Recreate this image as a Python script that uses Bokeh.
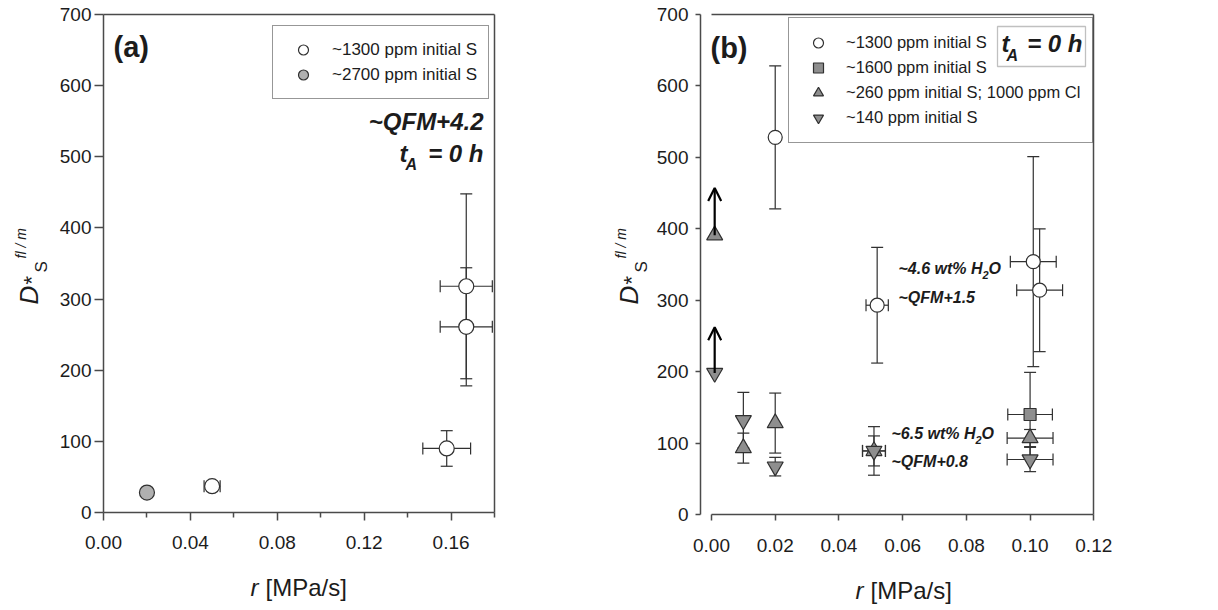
from math import pi

from bokeh.embed import file_html
from bokeh.layouts import row
from bokeh.models import (Arrow, BoxAnnotation, ColumnDataSource, FixedTicker, Label,
                          Legend, LegendItem, LinearAxis, NumeralTickFormatter, OpenHead,
                          Range1d, TeeHead, Whisker)
from bokeh.plotting import figure
from bokeh.resources import INLINE

# ---------------------------------------------------------------- data
# (a) ~QFM+4.2, t_A = 0 h
a_1300_r = [0.050, 0.158, 0.167, 0.167]
a_1300_D = [37, 90, 261, 318]
a_1300_r_err = [0.0037, 0.011, 0.012, 0.012]
a_1300_D_err = [0, 25, 83, 130]

a_2700_r = [0.020]
a_2700_D = [28]

# (b) t_A = 0 h
b_1300_r = [0.020, 0.052, 0.101, 0.103]
b_1300_D = [528, 293, 354, 314]
b_1300_r_err = [0, 0.0035, 0.0072, 0.0072]
b_1300_D_err = [100, 81, 147, 86]

b_1600_r = [0.100]
b_1600_D = [140]
b_1600_r_err = [0.007]
b_1600_D_err = [59]

b_260_r = [0.001, 0.010, 0.020, 0.051, 0.100]
b_260_D = [391, 93, 128, 89, 107]
b_260_r_err = [0, 0, 0, 0.0036, 0.0072]
b_260_D_err = [0, 21, 42, 21, 12]

b_140_r = [0.001, 0.010, 0.020, 0.051, 0.100]
b_140_D = [198, 132, 67, 89, 77]
b_140_r_err = [0, 0, 0, 0.0036, 0.0072]
b_140_D_err = [0, 39, 13, 34, 17]

# lower-limit arrows at r = 0
limit_r = [0.001, 0.001]
limit_D = [391, 198]
limit_tip = [457, 262]

a_x_ticks = [0.00, 0.04, 0.08, 0.12, 0.16]
a_x_minor = [0.02, 0.06, 0.10, 0.14, 0.18]
b_x_ticks = [0.00, 0.02, 0.04, 0.06, 0.08, 0.10, 0.12]
y_ticks = [0, 100, 200, 300, 400, 500, 600, 700]

# ---------------------------------------------------------------- style
FONT = "Liberation Sans"
INK = "#1c1c1c"
AXIS = "#4a4a4a"
EDGE = "#303030"
GREY_A = "#b0b0b0"
GREY_B = "#8e8e8e"
H = 610
TICK_FONT = "19px"


class Panel:
    """Canvas-pixel <-> data mapping for a figure whose frame fills its canvas."""

    def __init__(self, width, px0, px1, vx0, vx1, py0, py1, vy0, vy1):
        self.width = width
        self.kx = (px1 - px0) / (vx1 - vx0)
        self.ky = (py0 - py1) / (vy1 - vy0)
        self.x0 = vx0 - px0 / self.kx
        self.x1 = vx0 + (width - px0) / self.kx
        self.y0 = vy0 - (H - py0) / self.ky
        self.y1 = vy0 + py0 / self.ky

    def __call__(self, cx, cy):
        return self.x0 + cx / self.kx, self.y1 - cy / self.ky


def make_fig(pm):
    p = figure(width=pm.width, height=H, output_backend="svg", toolbar_location=None,
               x_range=Range1d(pm.x0, pm.x1), y_range=Range1d(pm.y0, pm.y1),
               min_border=0, min_border_left=0, min_border_right=0,
               min_border_top=0, min_border_bottom=0)
    p.grid.visible = False
    p.outline_line_color = None
    p.background_fill_color = "white"
    p.border_fill_color = "white"
    return p


def style_axis(ax, ticks, minor, tick_out, minor_out, standoff, loc, bounds):
    ax.fixed_location = loc
    ax.bounds = bounds
    ax.ticker = FixedTicker(ticks=ticks, minor_ticks=minor)
    ax.axis_line_color = AXIS
    ax.axis_line_width = 1.5
    ax.major_tick_line_color = AXIS
    ax.major_tick_line_width = 1.5
    ax.minor_tick_line_color = AXIS
    ax.minor_tick_line_width = 1.5
    ax.major_tick_in = 0
    ax.major_tick_out = tick_out
    ax.minor_tick_in = 0
    ax.minor_tick_out = minor_out
    ax.major_label_text_font = FONT
    ax.major_label_text_font_size = TICK_FONT
    ax.major_label_text_color = INK
    ax.major_label_standoff = standoff


def frame_axis(p, side, loc, bounds):
    ax = LinearAxis(ticker=FixedTicker(ticks=[]), bounds=bounds, fixed_location=loc,
                    axis_line_color=AXIS, axis_line_width=1.5,
                    major_tick_in=0, major_tick_out=0, minor_tick_in=0, minor_tick_out=0,
                    major_label_text_font_size="0px")
    p.add_layout(ax, side)


def add_errors(p, r, d, r_err, d_err):
    head = dict(size=12, line_color=EDGE, line_width=1.2)
    vert = [(x, y, e) for x, y, e in zip(r, d, d_err) if e > 0]
    if vert:
        src = ColumnDataSource(dict(base=[v[0] for v in vert],
                                    lo=[v[1] - v[2] for v in vert],
                                    hi=[v[1] + v[2] for v in vert]))
        p.add_layout(Whisker(base="base", lower="lo", upper="hi", dimension="height",
                             source=src, level="underlay", line_color=EDGE, line_width=1.2,
                             lower_head=TeeHead(**head), upper_head=TeeHead(**head)))
    horiz = [(x, y, e) for x, y, e in zip(r, d, r_err) if e > 0]
    if horiz:
        src = ColumnDataSource(dict(base=[v[1] for v in horiz],
                                    lo=[v[0] - v[2] for v in horiz],
                                    hi=[v[0] + v[2] for v in horiz]))
        p.add_layout(Whisker(base="base", lower="lo", upper="hi", dimension="width",
                             source=src, level="underlay", line_color=EDGE, line_width=1.2,
                             lower_head=TeeHead(**head), upper_head=TeeHead(**head)))


def note(p, pm, cx, cy, text, size, style="normal", align="left", angle=0.0):
    x, y = pm(cx, cy)
    p.add_layout(Label(x=x, y=y, text=text, text_font=FONT, text_font_size=f"{size}px",
                       text_font_style=style, text_color=INK, text_align=align,
                       text_baseline="middle", angle=angle, level="overlay"))


def axis_titles(p, pm):
    # y title: D*_S^(fl/m), rotated to read upwards
    note(p, pm, 28, 304, "D", 26, "italic", angle=pi / 2)
    note(p, pm, 31, 284, "*", 22, angle=pi / 2)
    note(p, pm, 41, 272, "S", 17, angle=pi / 2)
    note(p, pm, 20, 258, "fl / m", 14, "italic", angle=pi / 2)


def legend(p, items, left_px, top_px, rows, gw, pad, standoff, font, fill_alpha):
    gh = 25
    height = 2 * pad + rows * gh
    lg = Legend(items=items, location=(left_px, H - (top_px + height)),
                glyph_width=gw, glyph_height=gh, spacing=0, padding=pad, margin=0,
                label_standoff=standoff, label_text_font=FONT, label_text_font_size=font,
                label_text_color=INK, border_line_color=EDGE, border_line_width=1.3,
                background_fill_color="white", background_fill_alpha=fill_alpha)
    p.add_layout(lg)


# ---------------------------------------------------------------- panel (a)
ma = Panel(600, 103, 494, 0.0, 0.18, 512, 14, 0, 700)
pa = make_fig(ma)
style_axis(pa.xaxis[0], a_x_ticks, a_x_minor, 8, 5, 15, 0, (0.0, 0.18))
pa.xaxis[0].formatter = NumeralTickFormatter(format="0.00")
style_axis(pa.yaxis[0], y_ticks, [], 9, 0, 3, 0.0, (0, 700))
frame_axis(pa, "above", 700, (0.0, 0.18))
frame_axis(pa, "right", 0.18, (0, 700))

add_errors(pa, a_1300_r, a_1300_D, a_1300_r_err, a_1300_D_err)
ra1 = pa.scatter(a_1300_r, a_1300_D, marker="circle", size=15, fill_color="white",
                 line_color=EDGE, line_width=1.2)
ra2 = pa.scatter(a_2700_r, a_2700_D, marker="circle", size=15, fill_color=GREY_A,
                 line_color=EDGE, line_width=1.2)
legend(pa, [LegendItem(label="~1300 ppm initial S", renderers=[ra1]),
            LegendItem(label="~2700 ppm initial S", renderers=[ra2])],
       272, 27, 2, 38, 11, 10, "17px", 1.0)

note(pa, ma, 113, 46, "(a)", 29, "bold")
note(pa, ma, 483, 121, "~QFM+4.2", 24, "bold italic", "right")
note(pa, ma, 399, 153, "t", 24, "bold italic")
note(pa, ma, 405, 164, "A", 16, "bold italic")
note(pa, ma, 483, 153, "= 0 h", 24, "bold italic", "right")
axis_titles(pa, ma)
note(pa, ma, 250, 587, "r", 24, "italic")
note(pa, ma, 265, 587, "[MPa/s]", 24)

# ---------------------------------------------------------------- panel (b)
mb = Panel(618, 111, 493.3, 0.0, 0.12, 514, 14, 0, 700)
pb = make_fig(mb)
left_b = mb(100, 0)[0]
style_axis(pb.xaxis[0], b_x_ticks, [], 6, 0, 18, 0, (0.0, 0.12))
pb.xaxis[0].formatter = NumeralTickFormatter(format="0.00")
style_axis(pb.yaxis[0], y_ticks, [], 5, 0, 7, left_b, (0, 700))
frame_axis(pb, "above", 700, (0.0, 0.12))
frame_axis(pb, "right", 0.12, (0, 700))

add_errors(pb, b_1300_r, b_1300_D, b_1300_r_err, b_1300_D_err)
add_errors(pb, b_1600_r, b_1600_D, b_1600_r_err, b_1600_D_err)
add_errors(pb, b_260_r, b_260_D, b_260_r_err, b_260_D_err)
add_errors(pb, b_140_r, b_140_D, b_140_r_err, b_140_D_err)

rb1 = pb.scatter(b_1300_r, b_1300_D, marker="circle", size=14, fill_color="white",
                 line_color=EDGE, line_width=1.2)
rb2 = pb.scatter(b_1600_r, b_1600_D, marker="square", size=12, fill_color=GREY_B,
                 line_color=EDGE, line_width=1.2)
rb3 = pb.scatter(b_260_r, b_260_D, marker="triangle", size=16, fill_color=GREY_B,
                 line_color=EDGE, line_width=1.2)
rb4 = pb.scatter(b_140_r, b_140_D, marker="inverted_triangle", size=16, fill_color=GREY_B,
                 line_color=EDGE, line_width=1.2)

arrows = ColumnDataSource(dict(x=limit_r, y0=limit_D, y1=limit_tip))
pb.add_layout(Arrow(x_start="x", y_start="y0", x_end="x", y_end="y1", source=arrows,
                    line_color="black", line_width=2.2,
                    end=OpenHead(size=13, line_color="black", line_width=2.2)))

# white backing for the legend, with the t_A box sitting inside it
lx0, ly0 = mb(188, 19)
lx1, ly1 = mb(490, 143)
pb.add_layout(BoxAnnotation(left=lx0, right=lx1, top=ly0, bottom=ly1,
                            fill_color="white", fill_alpha=1.0, line_color=None,
                            level="overlay"))
bx0, by0 = mb(397, 26)
bx1, by1 = mb(485, 66)
pb.add_layout(BoxAnnotation(left=bx0, right=bx1, top=by0, bottom=by1,
                            fill_color="white", fill_alpha=1.0,
                            line_color=EDGE, line_width=1.3, level="overlay"))
note(pb, mb, 401, 43, "t", 24, "bold italic")
note(pb, mb, 406, 55, "A", 16, "bold italic")
note(pb, mb, 482, 43, "= 0 h", 24, "bold italic", "right")

legend(pb, [LegendItem(label="~1300 ppm initial S", renderers=[rb1]),
            LegendItem(label="~1600 ppm initial S", renderers=[rb2]),
            LegendItem(label="~260 ppm initial S; 1000 ppm Cl", renderers=[rb3]),
            LegendItem(label="~140 ppm initial S", renderers=[rb4])],
       188, 19, 4, 34, 12, 11, "16.5px", 0.0)

note(pb, mb, 110, 47, "(b)", 29, "bold")

note(pb, mb, 298, 268, "~4.6 wt% H", 16, "bold italic")
note(pb, mb, 382, 274, "2", 11, "bold italic")
note(pb, mb, 388, 268, "O", 16, "bold italic")
note(pb, mb, 298, 297, "~QFM+1.5", 16, "bold italic")
note(pb, mb, 291, 433, "~6.5 wt% H", 16, "bold italic")
note(pb, mb, 375, 439, "2", 11, "bold italic")
note(pb, mb, 381, 433, "O", 16, "bold italic")
note(pb, mb, 291, 461, "~QFM+0.8", 16, "bold italic")

axis_titles(pb, mb)
note(pb, mb, 255, 590, "r", 24, "italic")
note(pb, mb, 270, 590, "[MPa/s]", 24)

open("out.html", "w").write(file_html(row(pa, pb), INLINE))
